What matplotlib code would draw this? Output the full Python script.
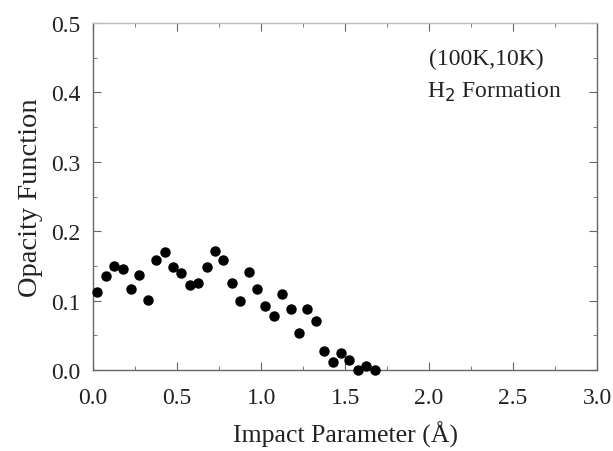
import matplotlib
matplotlib.use("Agg")
import matplotlib.pyplot as plt
from matplotlib.ticker import MultipleLocator

# impact parameter (Angstrom) and opacity function
impact = [0.025, 0.075, 0.125, 0.175, 0.225, 0.275, 0.325, 0.375, 0.425, 0.475,
          0.525, 0.575, 0.625, 0.675, 0.725, 0.775, 0.825, 0.875, 0.925, 0.975,
          1.025, 1.075, 1.125, 1.175, 1.225, 1.275, 1.325, 1.375, 1.425, 1.475,
          1.525, 1.575, 1.625, 1.675]
opacity = [0.113, 0.136, 0.150, 0.146, 0.117, 0.137, 0.101, 0.158, 0.170, 0.149,
           0.140, 0.123, 0.126, 0.149, 0.171, 0.158, 0.125, 0.100, 0.141, 0.117,
           0.092, 0.078, 0.110, 0.088, 0.054, 0.088, 0.070, 0.027, 0.011, 0.024,
           0.015, 0.000, 0.006, 0.000]

plt.rcParams['font.family'] = ['Liberation Serif', 'DejaVu Serif']

fig = plt.figure(figsize=(6.13, 4.52), dpi=100)
ax = fig.add_axes([0.152, 0.179, 0.822, 0.768])

ax.plot(impact, opacity, 'o', color='black', markersize=6.5, clip_on=False, zorder=3)

ax.set_xlim(0, 3.0)
ax.set_ylim(0, 0.5)
ax.xaxis.set_major_locator(MultipleLocator(0.5))
ax.xaxis.set_minor_locator(MultipleLocator(0.25))
ax.yaxis.set_major_locator(MultipleLocator(0.1))
ax.yaxis.set_minor_locator(MultipleLocator(0.05))
ax.xaxis.set_major_formatter(plt.FormatStrFormatter('%.1f'))
ax.yaxis.set_major_formatter(plt.FormatStrFormatter('%.1f'))

for side in ax.spines.values():
    side.set_color('#666666')
    side.set_linewidth(1.0)
ax.spines['top'].set_color('#bbbbbb')
ax.tick_params(which='both', direction='in', top=True, right=True,
               colors='#666666', labelcolor='#222222', labelsize=17)
ax.tick_params(axis='x', which='both', pad=12)
ax.tick_params(axis='y', which='both', pad=9)
ax.tick_params(which='major', length=6)
ax.tick_params(which='minor', length=3)

ax.set_xlabel('Impact Parameter (Å)', fontsize=18.5, color='#222222', labelpad=9)
ax.set_ylabel('Opacity Function', fontsize=20.5, color='#222222', labelpad=6)

ax.text(2.34, 0.449, '(100K,10K)', fontsize=17, ha='center', va='center', color='#222222')
ax.text(2.39, 0.401, r'H$_2$ Formation', fontsize=17, ha='center', va='center', color='#222222')

fig.savefig('out.png', dpi=100)
